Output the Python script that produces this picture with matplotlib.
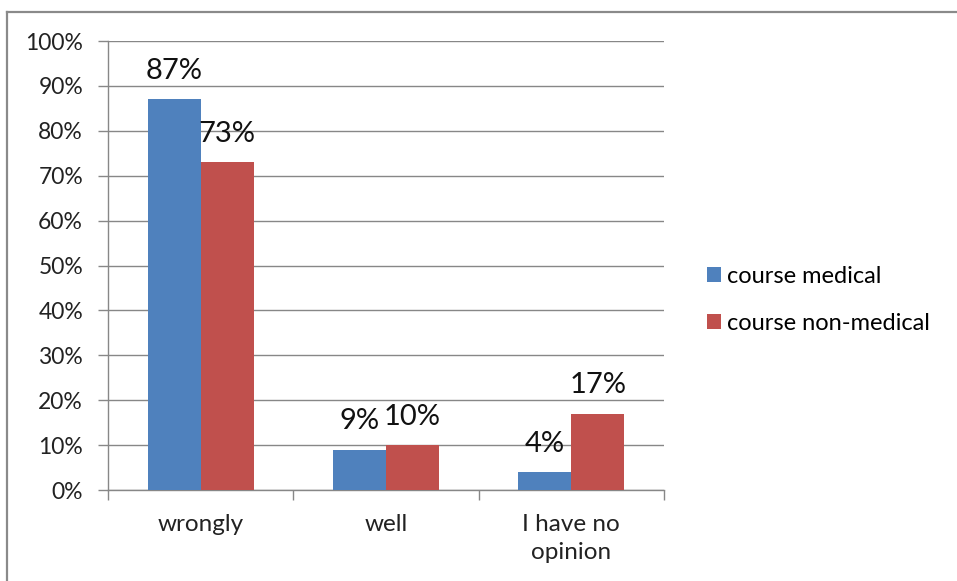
import matplotlib.pyplot as plt
from matplotlib.lines import Line2D
import numpy as np

# answers per group, in percent
categories = ["wrongly", "well", "I have no\nopinion"]
medical = [87, 9, 4]
non_medical = [73, 10, 17]
series_names = ["course medical", "course non-medical"]
yticks = np.arange(0, 101, 10)

plt.rcParams['font.family'] = ['Lato', 'DejaVu Sans']

blue = '#4F81BD'
red = '#C0504D'
grid_col = '#878787'

fig = plt.figure(figsize=(9.57, 5.81), dpi=100)
ax = fig.add_axes([0.1129, 0.1566, 0.5809, 0.7728])

x = np.arange(len(categories))
w = 0.286
b1 = ax.bar(x - w / 2, medical, w, color=blue, label=series_names[0], zorder=3)
b2 = ax.bar(x + w / 2, non_medical, w, color=red, label=series_names[1], zorder=3)

for bars, vals in ((b1, medical), (b2, non_medical)):
    ax.bar_label(bars, labels=[f"{v}%" for v in vals], padding=11,
                 fontsize=21, color='#111111', zorder=4)

ax.set_xlim(-0.5, len(categories) - 0.5)
ax.set_ylim(0, 100)
ax.set_yticks(yticks)
ax.set_yticklabels([f"{t}%" for t in yticks])
ax.yaxis.grid(True, color=grid_col, linewidth=1)
ax.set_axisbelow(True)

# category names centred, tick marks between groups
ax.set_xticks(x)
ax.set_xticklabels(categories, linespacing=1.38)
ax.set_xticks(np.arange(-0.5, len(categories)), minor=True)
ax.tick_params(axis='x', which='major', length=0, pad=17.5, labelsize=17.5, labelcolor='#222222')
ax.tick_params(axis='x', which='minor', length=7, color=grid_col, width=1, direction='out')
ax.tick_params(axis='y', length=7, color=grid_col, width=1, pad=11, labelsize=16.5, labelcolor='#222222')

for side in ('top', 'right'):
    ax.spines[side].set_visible(False)
for side in ('left', 'bottom'):
    ax.spines[side].set_color(grid_col)
    ax.spines[side].set_linewidth(1)

ax.legend(loc='center left', bbox_to_anchor=(0.7286, 0.4836), bbox_transform=fig.transFigure,
          frameon=False, fontsize=17, handlelength=0.62, handleheight=0.62,
          handletextpad=0.25, labelspacing=1.1, borderaxespad=0)

# frame around the chart (left and top edges)
fig.add_artist(Line2D([7 / 957, 7 / 957], [0, 1 - 12 / 581], color='#8a8a8a', lw=1.6,
                      transform=fig.transFigure))
fig.add_artist(Line2D([7 / 957, 1], [1 - 12 / 581, 1 - 12 / 581], color='#8a8a8a', lw=1.6,
                      transform=fig.transFigure))

fig.savefig('out.png', dpi=100)
